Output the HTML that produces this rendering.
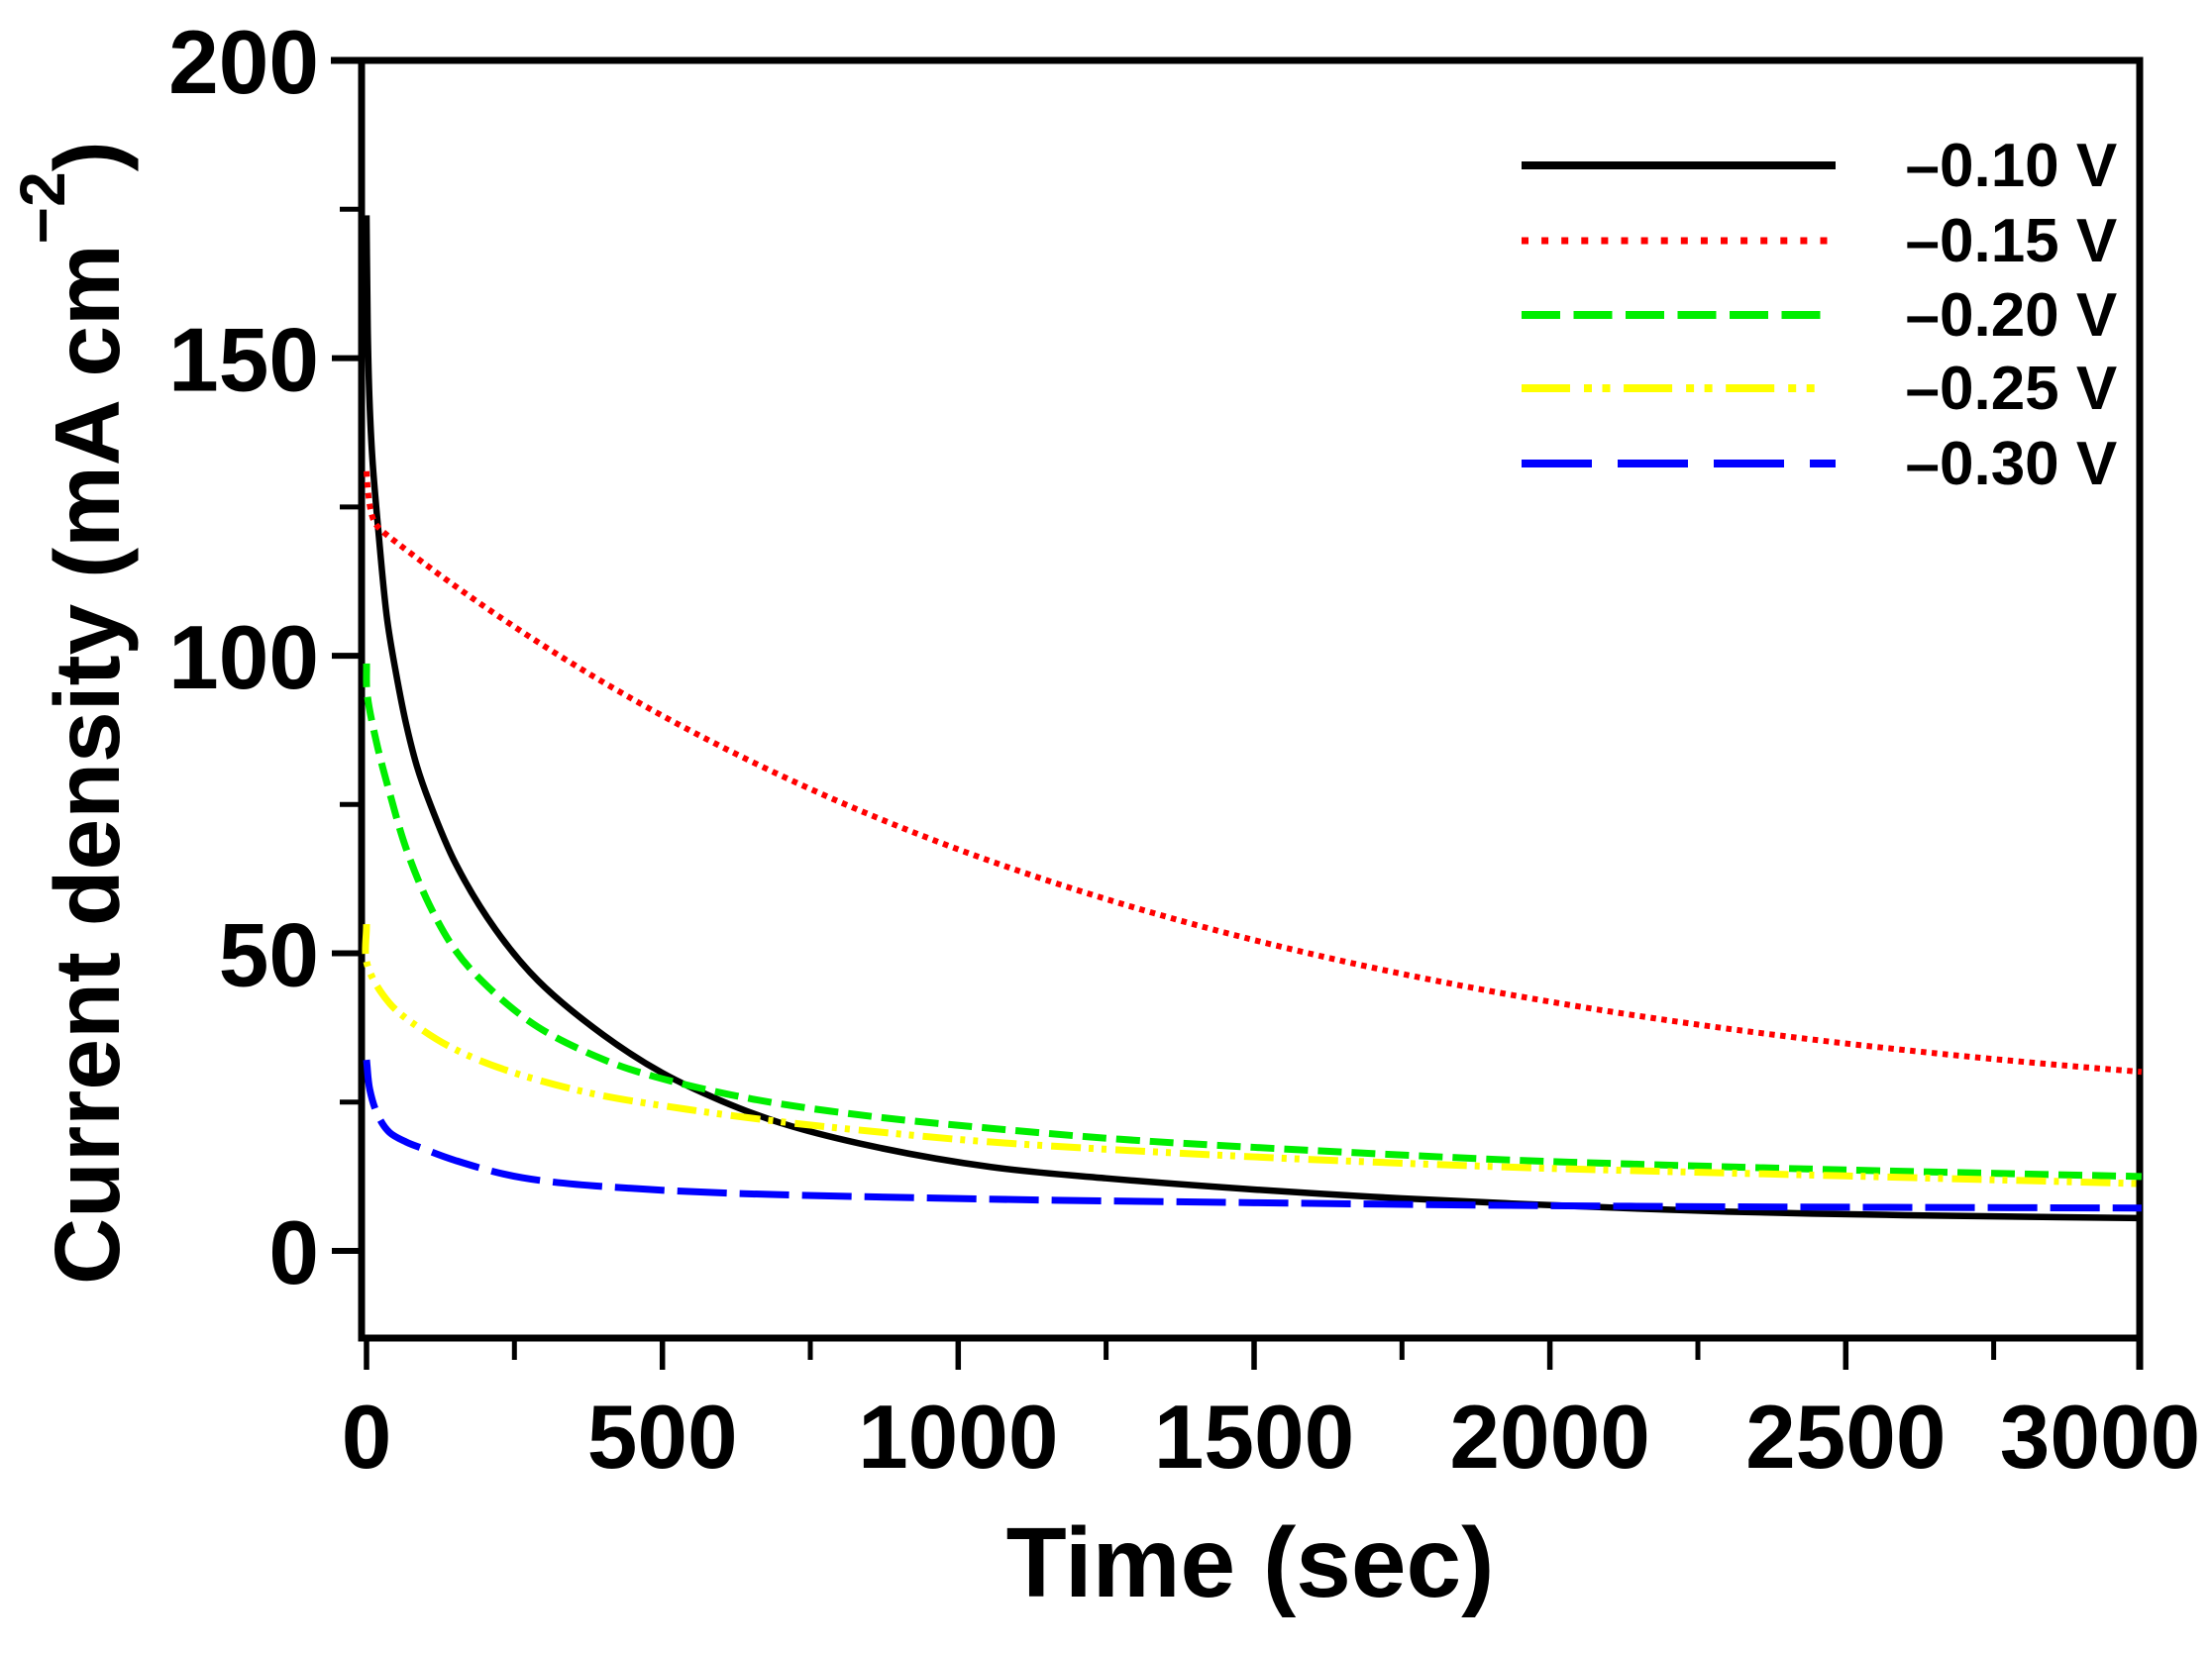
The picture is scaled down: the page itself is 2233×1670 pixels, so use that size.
<!DOCTYPE html>
<html><head><meta charset="utf-8">
<style>
html,body{margin:0;padding:0;background:#fff;}
svg{display:block;}
text{font-family:"Liberation Sans",Arial,sans-serif;font-weight:bold;fill:#000;}
</style></head>
<body>
<svg id="chart" width="2233" height="1670" viewBox="0 0 2233 1670" xmlns="http://www.w3.org/2000/svg">
<rect width="2233" height="1670" fill="#fff"/>

<!-- axes -->
<g stroke="#000" fill="none" stroke-linecap="butt">
  <line x1="334" y1="61" x2="2163.5" y2="61" stroke-width="7"/>
  <line x1="365" y1="57.5" x2="365" y2="1354.5" stroke-width="7"/>
  <line x1="2160" y1="57.5" x2="2160" y2="1383" stroke-width="7"/>
  <line x1="361.5" y1="1351" x2="2163.5" y2="1351" stroke-width="7"/>
  <g stroke-width="6">
    <line x1="335" y1="361.6" x2="365" y2="361.6"/>
    <line x1="335" y1="662.1" x2="365" y2="662.1"/>
    <line x1="335" y1="962.5" x2="365" y2="962.5"/>
    <line x1="335" y1="1263" x2="365" y2="1263"/>
  </g>
  <g stroke-width="5">
    <line x1="343" y1="211.3" x2="365" y2="211.3"/>
    <line x1="343" y1="511.9" x2="365" y2="511.9"/>
    <line x1="343" y1="812.3" x2="365" y2="812.3"/>
    <line x1="343" y1="1112.8" x2="365" y2="1112.8"/>
  </g>
  <g stroke-width="5.5">
    <line x1="370" y1="1351" x2="370" y2="1383"/>
    <line x1="668.7" y1="1351" x2="668.7" y2="1383"/>
    <line x1="967.3" y1="1351" x2="967.3" y2="1383"/>
    <line x1="1266" y1="1351" x2="1266" y2="1383"/>
    <line x1="1564.6" y1="1351" x2="1564.6" y2="1383"/>
    <line x1="1863.3" y1="1351" x2="1863.3" y2="1383"/>
  </g>
  <g stroke-width="5">
    <line x1="519.3" y1="1351" x2="519.3" y2="1373"/>
    <line x1="818" y1="1351" x2="818" y2="1373"/>
    <line x1="1116.6" y1="1351" x2="1116.6" y2="1373"/>
    <line x1="1415.3" y1="1351" x2="1415.3" y2="1373"/>
    <line x1="1714" y1="1351" x2="1714" y2="1373"/>
    <line x1="2012.6" y1="1351" x2="2012.6" y2="1373"/>
  </g>
</g>

<!-- y tick labels -->
<g font-size="91" text-anchor="end">
  <text x="322" y="94">200</text>
  <text x="322" y="394.6">150</text>
  <text x="322" y="695">100</text>
  <text x="322" y="995.5">50</text>
  <text x="322" y="1296">0</text>
</g>
<!-- x tick labels -->
<g font-size="91" text-anchor="middle">
  <text x="370" y="1482">0</text>
  <text x="668.7" y="1482">500</text>
  <text x="967.3" y="1482">1000</text>
  <text x="1266" y="1482">1500</text>
  <text x="1564.6" y="1482">2000</text>
  <text x="1863.3" y="1482">2500</text>
  <text x="2120" y="1482">3000</text>
</g>

<!-- axis titles -->
<text x="1262" y="1612" font-size="100" text-anchor="middle">Time (sec)</text>
<text transform="translate(120,1297) rotate(-90)" font-size="93">Current density (mA cm<tspan font-size="64" dy="-55">−2</tspan><tspan dy="55" font-size="93">)</tspan></text>

<!-- curves (fallback polylines; smoothed by script) -->
<g id="curves" fill="none" stroke-linejoin="round">
  <polyline id="c1" stroke="#000" stroke-width="6.5" points="370,217.4 371.2,331.6 373,403.7 376,463.8 382,535.9 390.9,626 399.9,680.1 410,731.2 420.8,773.2 433.3,809.3 460.2,872.4 500.2,938.5 543.2,990.2 608.9,1044.9 668.7,1083.3 728.4,1111.6 788.1,1133.8 880.1,1157.2 1000.1,1178.3 1116.6,1189.7 1267.1,1201.1 1385.4,1208.3 1520.4,1214.9 1743.8,1223.3 1923,1227 2161.9,1230"/>
  <polyline id="c2" stroke="#ff0000" stroke-width="6" stroke-dasharray="5.5 5.5" points="370,475.8 371.8,496.9 374.8,510.1 389.7,529.9 442.9,570.2 527.1,639.9 593.4,678.3 626.8,700 727.2,763 860.4,824.9 993.6,874.8 1127.4,912.1 1260.6,942.1 1380.6,969.8 1504.9,993.8 1645.8,1020.2 1878.8,1053.3 2012.6,1067.1 2161.9,1082.1"/>
  <polyline id="c3" stroke="#00ee00" stroke-width="7" stroke-dasharray="24 10" points="370,669.9 370.6,700 380.2,749.8 393.3,800.3 410,856.8 433.3,913.3 460.2,960.1 493,996.8 543.2,1037.1 610.1,1070.1 660.3,1086.9 760,1109.8 880.1,1127.2 1000.1,1139.2 1127.4,1150 1266,1157.2 1520.4,1172.3 1645.8,1175.3 1863.3,1181.3 2161.9,1187.9"/>
  <polyline id="c4" stroke="#ffff00" stroke-width="7" stroke-dasharray="30 8 5 8 5 9" points="370,933.1 370.6,973.4 393.3,1013 426.7,1040.1 460.2,1059.9 510.4,1080.3 593.4,1103.2 693.1,1120 793.5,1133.2 880.1,1142.2 1000.1,1153 1266,1168.1 1520.4,1178.3 1645.8,1181.9 1863.3,1187.3 2161.9,1195.1"/>
  <polyline id="c5" stroke="#0000ff" stroke-width="7" stroke-dasharray="50 13" points="370,1070.1 373.3,1100.2 381.7,1126.6 393.3,1143.4 410,1153 426.7,1158.4 459.6,1171.7 527.1,1189.1 668.7,1201.7 967.3,1210.1 1266,1214.3 1645.8,1217.9 2161.9,1219.7"/>
</g>

<!-- legend -->
<g fill="none">
  <line x1="1536" y1="167" x2="1853" y2="167" stroke="#000" stroke-width="8"/>
  <line x1="1536" y1="243" x2="1846" y2="243" stroke="#ff0000" stroke-width="7" stroke-dasharray="7 13.1"/>
  <line x1="1536" y1="318" x2="1838" y2="318" stroke="#00ee00" stroke-width="8" stroke-dasharray="39 13.5"/>
  <line x1="1536" y1="392" x2="1834" y2="392" stroke="#ffff00" stroke-width="8" stroke-dasharray="49 14 8 10.5 8 13.6"/>
  <line x1="1536" y1="468" x2="1853" y2="468" stroke="#0000ff" stroke-width="8" stroke-dasharray="71 26"/>
</g>
<g font-size="62">
  <text x="1923.5" y="188">–0.10 V</text>
  <text x="1923.5" y="264">–0.15 V</text>
  <text x="1923.5" y="339">–0.20 V</text>
  <text x="1923.5" y="413">–0.25 V</text>
  <text x="1923.5" y="489">–0.30 V</text>
</g>
</svg>
<script>
(function(){
  var NS="http://www.w3.org/2000/svg";
  function X(t){return 370+0.5973*t;}
  function Y(v){return 1263-6.009*v;}
  var data={
    c1:[[0,174],[2,155],[5,143],[10,133],[20,121],[35,106],[50,97],[67,88.5],[85,81.5],[106,75.5],[151,65],[218,54],[290,45.4],[400,36.3],[500,29.9],[600,25.2],[700,21.5],[854,17.6],[1055,14.1],[1250,12.2],[1502,10.3],[1700,9.1],[1926,8.0],[2300,6.6],[2600,6.0],[3000,5.5]],
    c3:[[0,98.7],[1,93.7],[17,85.4],[39,77],[67,67.6],[106,58.2],[151,50.4],[206,44.3],[290,37.6],[402,32.1],[486,29.3],[653,25.5],[854,22.6],[1055,20.6],[1268,18.8],[1500,17.4],[1926,15.3],[2136,14.6],[2500,13.6],[3000,12.5]],
    c4:[[0,54.9],[1,48.2],[39,41.6],[95,37.1],[151,33.8],[235,30.4],[374,26.6],[541,23.8],[709,21.6],[854,20.1],[1055,18.3],[1500,15.8],[1926,14.1],[2136,13.5],[2500,12.6],[3000,11.3]],
    c5:[[0,32.1],[5.5,27.1],[19.6,22.7],[39,19.9],[67,18.3],[95,17.2],[150,15.2],[263,12.3],[500,10.2],[1000,8.8],[1500,8.1],[2136,7.5],[3000,7.2]]
  };
  var red=[];var ts=[0,1,2,3,5,8,12,18,26,36,50];
  for(var t=100;t<=3000;t+=50)ts.push(t);
  ts.forEach(function(t){red.push([t,20+103*Math.exp(-t/1291)+8*Math.exp(-t/5)]);});
  data.c2=red;
  function dist(a,b){var dx=a[0]-b[0],dy=a[1]-b[1];return Math.pow(Math.sqrt(dx*dx+dy*dy),0.5)||1e-4;}
  function smooth(P){
    var n=P.length;
    var ext=[[2*P[0][0]-P[1][0],2*P[0][1]-P[1][1]]].concat(P).concat([[2*P[n-1][0]-P[n-2][0],2*P[n-1][1]-P[n-2][1]]]);
    var d="M"+P[0][0].toFixed(2)+","+P[0][1].toFixed(2);
    for(var i=1;i<ext.length-2;i++){
      var p0=ext[i-1],p1=ext[i],p2=ext[i+1],p3=ext[i+2];
      var d1=dist(p0,p1),d2=dist(p1,p2),d3=dist(p2,p3);
      var c1=[0,0],c2=[0,0];
      for(var j=0;j<2;j++){
        c1[j]=(d1*d1*p2[j]-d2*d2*p0[j]+(2*d1*d1+3*d1*d2+d2*d2)*p1[j])/(3*d1*(d1+d2));
        c2[j]=(d3*d3*p1[j]-d2*d2*p3[j]+(2*d3*d3+3*d3*d2+d2*d2)*p2[j])/(3*d3*(d3+d2));
      }
      d+=" C"+c1[0].toFixed(2)+","+c1[1].toFixed(2)+" "+c2[0].toFixed(2)+","+c2[1].toFixed(2)+" "+p2[0].toFixed(2)+","+p2[1].toFixed(2);
    }
    return d;
  }
  ["c1","c2","c3","c4","c5"].forEach(function(id){
    var pl=document.getElementById(id);if(!pl)return;
    var P=data[id].map(function(p){return [X(p[0]),Y(p[1])];});
    var path=document.createElementNS(NS,"path");
    for(var a=0;a<pl.attributes.length;a++){
      var at=pl.attributes[a];
      if(at.name!=="points"&&at.name!=="id")path.setAttribute(at.name,at.value);
    }
    path.setAttribute("d",smooth(P));
    pl.parentNode.replaceChild(path,pl);
  });
})();
</script>
</body></html>
